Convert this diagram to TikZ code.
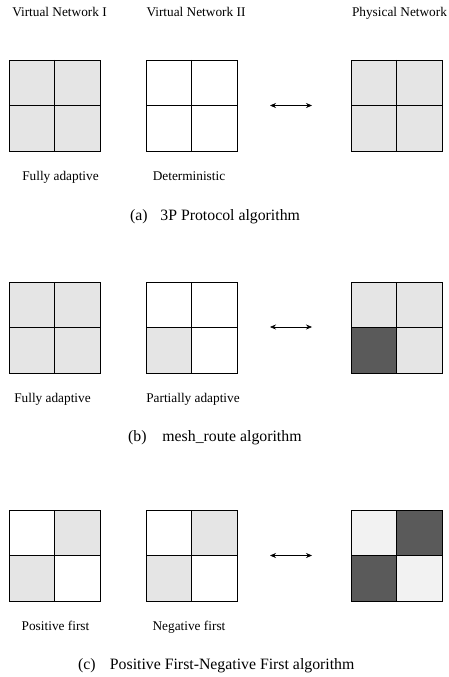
\documentclass[tikz,border=0pt]{standalone}
\usepackage{fontspec}
\setmainfont{Liberation Serif}
\usetikzlibrary{arrows.meta}
\definecolor{lg}{HTML}{E5E5E5}
\definecolor{dk}{HTML}{5A5A5A}
\definecolor{vl}{HTML}{F2F2F2}
\newcommand\mygrid[6]{%
  \fill[#3] (#1,#2) rectangle ++(45.5,45.5);
  \fill[#4] (#1+45.5,#2) rectangle ++(45.5,45.5);
  \fill[#5] (#1,#2+45.5) rectangle ++(45.5,45.5);
  \fill[#6] (#1+45.5,#2+45.5) rectangle ++(45.5,45.5);
  \draw[gridline] (#1,#2) rectangle ++(91,91);
  \draw[gridline] (#1+45.5,#2) -- ++(0,91);
  \draw[gridline] (#1,#2+45.5) -- ++(91,0);
}
\begin{document}
\begin{tikzpicture}[x=1pt,y=-1pt,
  lab/.style={font=\fontsize{13.3}{16}\selectfont, anchor=base, inner sep=0pt},
  captxt/.style={font=\fontsize{15.8}{19}\selectfont, anchor=base west, inner sep=0pt},
  gridline/.style={draw=black, line width=0.9pt},
  dbl/.style={line width=0.6pt, {Stealth[length=6pt,width=5pt,inset=2pt]}-{Stealth[length=6pt,width=5pt,inset=2pt]}}]
\useasboundingbox (0,0) rectangle (448,677);
% headings
\node[lab] (h1) at (59.5,17) {Virtual Network I};
\node[lab] (h2) at (196,17) {Virtual Network II};
\node[lab] (h3) at (399.5,17) {Physical Network};
% row (a)
\mygrid{9}{60}{lg}{lg}{lg}{lg}
\mygrid{146}{60}{white}{white}{white}{white}
\mygrid{351}{60}{lg}{lg}{lg}{lg}
\coordinate (a1) at (270,105.5);
\coordinate (a2) at (312,105.5);
\draw[dbl] (a1) -- (a2);
\node[lab] (la1) at (60.5,180) {Fully adaptive};
\node[lab] (la2) at (189,180) {Deterministic};
\node[captxt] (ca) at (130,220) {(a)\hspace{0.8em}3P Protocol algorithm};
% row (b)
\mygrid{9}{282}{lg}{lg}{lg}{lg}
\mygrid{146}{282}{white}{white}{lg}{white}
\mygrid{351}{282}{lg}{lg}{dk}{lg}
\coordinate (b1) at (270,327);
\coordinate (b2) at (312,327);
\draw[dbl] (b1) -- (b2);
\node[lab] (lb1) at (52.5,402) {Fully adaptive};
\node[lab] (lb2) at (193,402) {Partially adaptive};
\node[captxt] (cb) at (128,441) {(b)\hspace{1em}mesh\_route algorithm};
% row (c)
\mygrid{9}{510}{white}{lg}{lg}{white}
\mygrid{146}{510}{white}{lg}{lg}{white}
\mygrid{351}{510}{vl}{dk}{dk}{vl}
\coordinate (c1) at (270,555.5);
\coordinate (c2) at (312,555.5);
\draw[dbl] (c1) -- (c2);
\node[lab] (lc1) at (55.5,630) {Positive first};
\node[lab] (lc2) at (189,630) {Negative first};
\node[captxt] (cc) at (78,669) {(c)\hspace{0.9em}Positive First-Negative First algorithm};
\end{tikzpicture}
\end{document}
